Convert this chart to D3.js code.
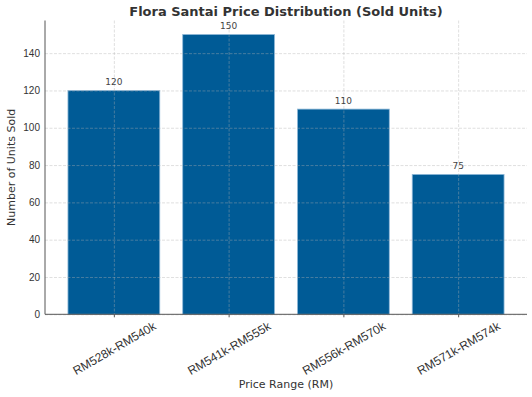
<!DOCTYPE html>
<html>
<head>
<meta charset="utf-8">
<script src="https://cdn.jsdelivr.net/npm/d3@7"></script>
<style>
  body { margin: 0; background: #fff; }
  svg { font-family: "DejaVu Sans", sans-serif; }
  .grid line { stroke: #b0b0b0; stroke-opacity: 0.5; stroke-dasharray: 3,1.5; stroke-width: 0.8; }
  .grid path { display: none; }
  .axis path { stroke: #555; }
  .axis text { fill: #333; }
</style>
</head>
<body>
<svg width="532" height="397"></svg>
<script>
var categories = ["RM528k-RM540k", "RM541k-RM555k", "RM556k-RM570k", "RM571k-RM574k"];
var soldUnits = [120, 150, 110, 75];
var yTicks = [0, 20, 40, 60, 80, 100, 120, 140];

var margin = { top: 20.5, right: 5, bottom: 82.7, left: 45 };
var svg = d3.select("svg");
var width = +svg.attr("width") - margin.left - margin.right;
var height = +svg.attr("height") - margin.top - margin.bottom;
var g = svg.append("g").attr("transform", "translate(" + margin.left + "," + margin.top + ")");

// index axis like matplotlib, -0.6..3.6, bar width 0.8
var xi = d3.scaleLinear().domain([-0.6, categories.length - 0.4]).range([0, width]);
var y = d3.scaleLinear().domain([0, d3.max(soldUnits) * 1.05]).range([height, 0]);

g.selectAll(".bar")
    .data(soldUnits)
    .enter().append("rect")
    .attr("class", "bar")
    .attr("x", function (d, i) { return xi(i - 0.4); })
    .attr("y", function (d) { return y(d); })
    .attr("width", xi(0.4) - xi(-0.4))
    .attr("height", function (d) { return height - y(d); })
    .attr("fill", "#005b96")
    .attr("stroke", "#8fb8d8")
    .attr("stroke-width", 0.8);

// grid sits over the bars
g.append("g").attr("class", "grid")
    .call(d3.axisLeft(y).tickValues(yTicks).tickSize(-width).tickFormat(""));
g.append("g").attr("class", "grid")
    .call(d3.axisBottom(xi).tickValues(d3.range(categories.length)).tickSize(height).tickFormat(""));

g.selectAll(".val")
    .data(soldUnits)
    .enter().append("text")
    .attr("class", "val")
    .attr("x", function (d, i) { return xi(i); })
    .attr("y", function (d) { return y(d) - 5; })
    .attr("text-anchor", "middle")
    .attr("font-size", "9px")
    .attr("fill", "#444")
    .text(function (d) { return d; });

var yAxis = g.append("g").attr("class", "axis")
    .call(d3.axisLeft(y).tickValues(yTicks).tickSize(0).tickPadding(5));
yAxis.select(".domain").attr("d", "M0," + height + "V0");
yAxis.selectAll(".tick text").attr("font-size", "10px");

var xAxis = g.append("g").attr("class", "axis")
    .attr("transform", "translate(0," + height + ")")
    .call(d3.axisBottom(xi).tickValues(d3.range(categories.length)).tickSize(3)
        .tickFormat(function (i) { return categories[i]; }));
xAxis.select(".domain").attr("d", "M0,0H" + width);
xAxis.selectAll(".tick line").attr("stroke", "#555");
xAxis.selectAll(".tick text")
    .attr("font-size", "12px")
    .attr("text-anchor", "middle")
    .attr("dy", "0.35em")
    .attr("x", 0).attr("y", 0)
    .attr("transform", "translate(0,34) rotate(-30)");

svg.append("text")
    .attr("x", margin.left + width / 2)
    .attr("y", 16)
    .attr("text-anchor", "middle")
    .attr("font-size", "13px")
    .attr("font-weight", "bold")
    .attr("fill", "#333")
    .text("Flora Santai Price Distribution (Sold Units)");

svg.append("text")
    .attr("x", margin.left + width / 2)
    .attr("y", 388)
    .attr("text-anchor", "middle")
    .attr("font-size", "11px")
    .attr("fill", "#333")
    .text("Price Range (RM)");

svg.append("text")
    .attr("transform", "translate(15," + (margin.top + height / 2) + ") rotate(-90)")
    .attr("text-anchor", "middle")
    .attr("font-size", "11px")
    .attr("fill", "#333")
    .text("Number of Units Sold");
</script>
</body>
</html>
